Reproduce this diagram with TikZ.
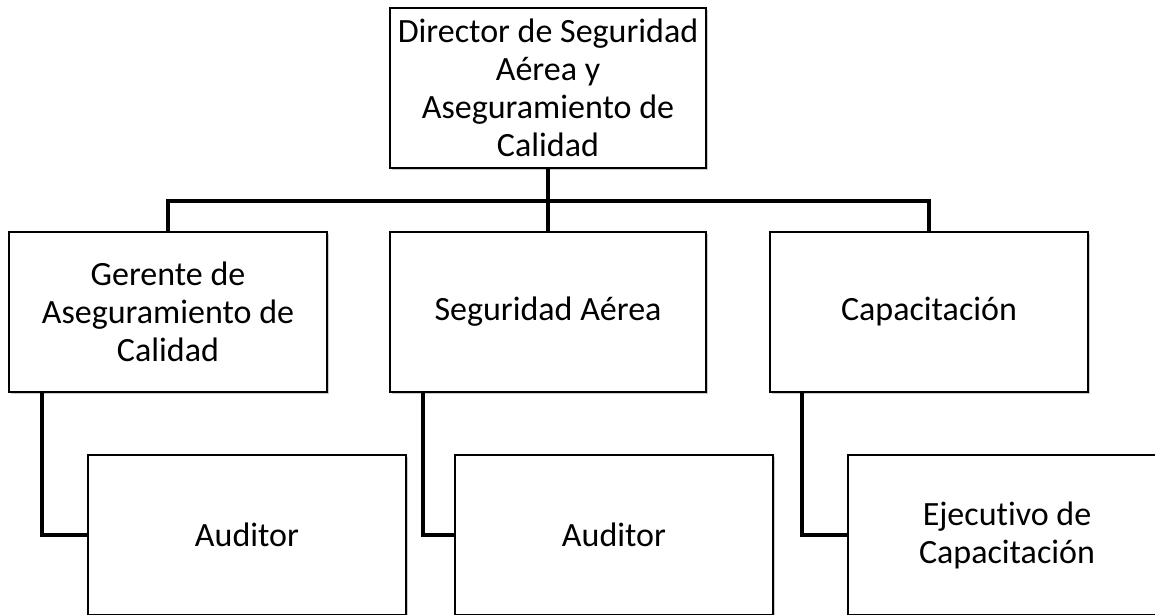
\documentclass[tikz,border=0pt]{standalone}
\usepackage{fontspec}
\setmainfont{Carlito}[Ligatures=NoCommon]
\usetikzlibrary{shadows}
\begin{document}
\begin{tikzpicture}[x=1pt,y=-1pt,
  box/.style={draw=black, line width=1.4pt, fill=white, rectangle, align=center,
    font=\fontsize{34}{38}\selectfont, inner sep=0pt,
    drop shadow={shadow xshift=1.5pt, shadow yshift=-1.5pt, opacity=0.35, fill=black!60}},
  conn/.style={line width=4.5pt, line join=miter}]
\useasboundingbox (0,0) rectangle (1155,614);
\clip (0,0) rectangle (1155,614);
% top
\node[box, minimum width=316pt, minimum height=160pt] (dir) at (548,88)
  {Director de Seguridad\\Aérea y\\Aseguramiento de\\Calidad};
% middle row
\node[box, minimum width=318pt, minimum height=160pt] (ger) at (168,312)
  {Gerente de\\Aseguramiento de\\Calidad};
\node[box, minimum width=316pt, minimum height=160pt] (seg) at (548,312)
  {Seguridad Aérea};
\node[box, minimum width=318pt, minimum height=160pt] (cap) at (929,312)
  {Capacitación};
% bottom row
\node[box, minimum width=318pt, minimum height=160pt] (aud1) at (247,535) {Auditor};
\node[box, minimum width=318pt, minimum height=160pt] (aud2) at (614,535) {Auditor};
\node[box, minimum width=318pt, minimum height=160pt] (eje) at (1007,535)
  {Ejecutivo de\\Capacitación};
% connectors
\coordinate (bus) at (548,201);
\draw[conn] (dir.south) -- (seg.north);
\draw[conn] (ger.north) |- (bus) -| (cap.north);
\draw[conn] ([xshift=-126pt]ger.south) |- (aud1.west);
\draw[conn] ([xshift=-125pt]seg.south) |- (aud2.west);
\draw[conn] ([xshift=-127pt]cap.south) |- (eje.west);
\end{tikzpicture}
\end{document}
